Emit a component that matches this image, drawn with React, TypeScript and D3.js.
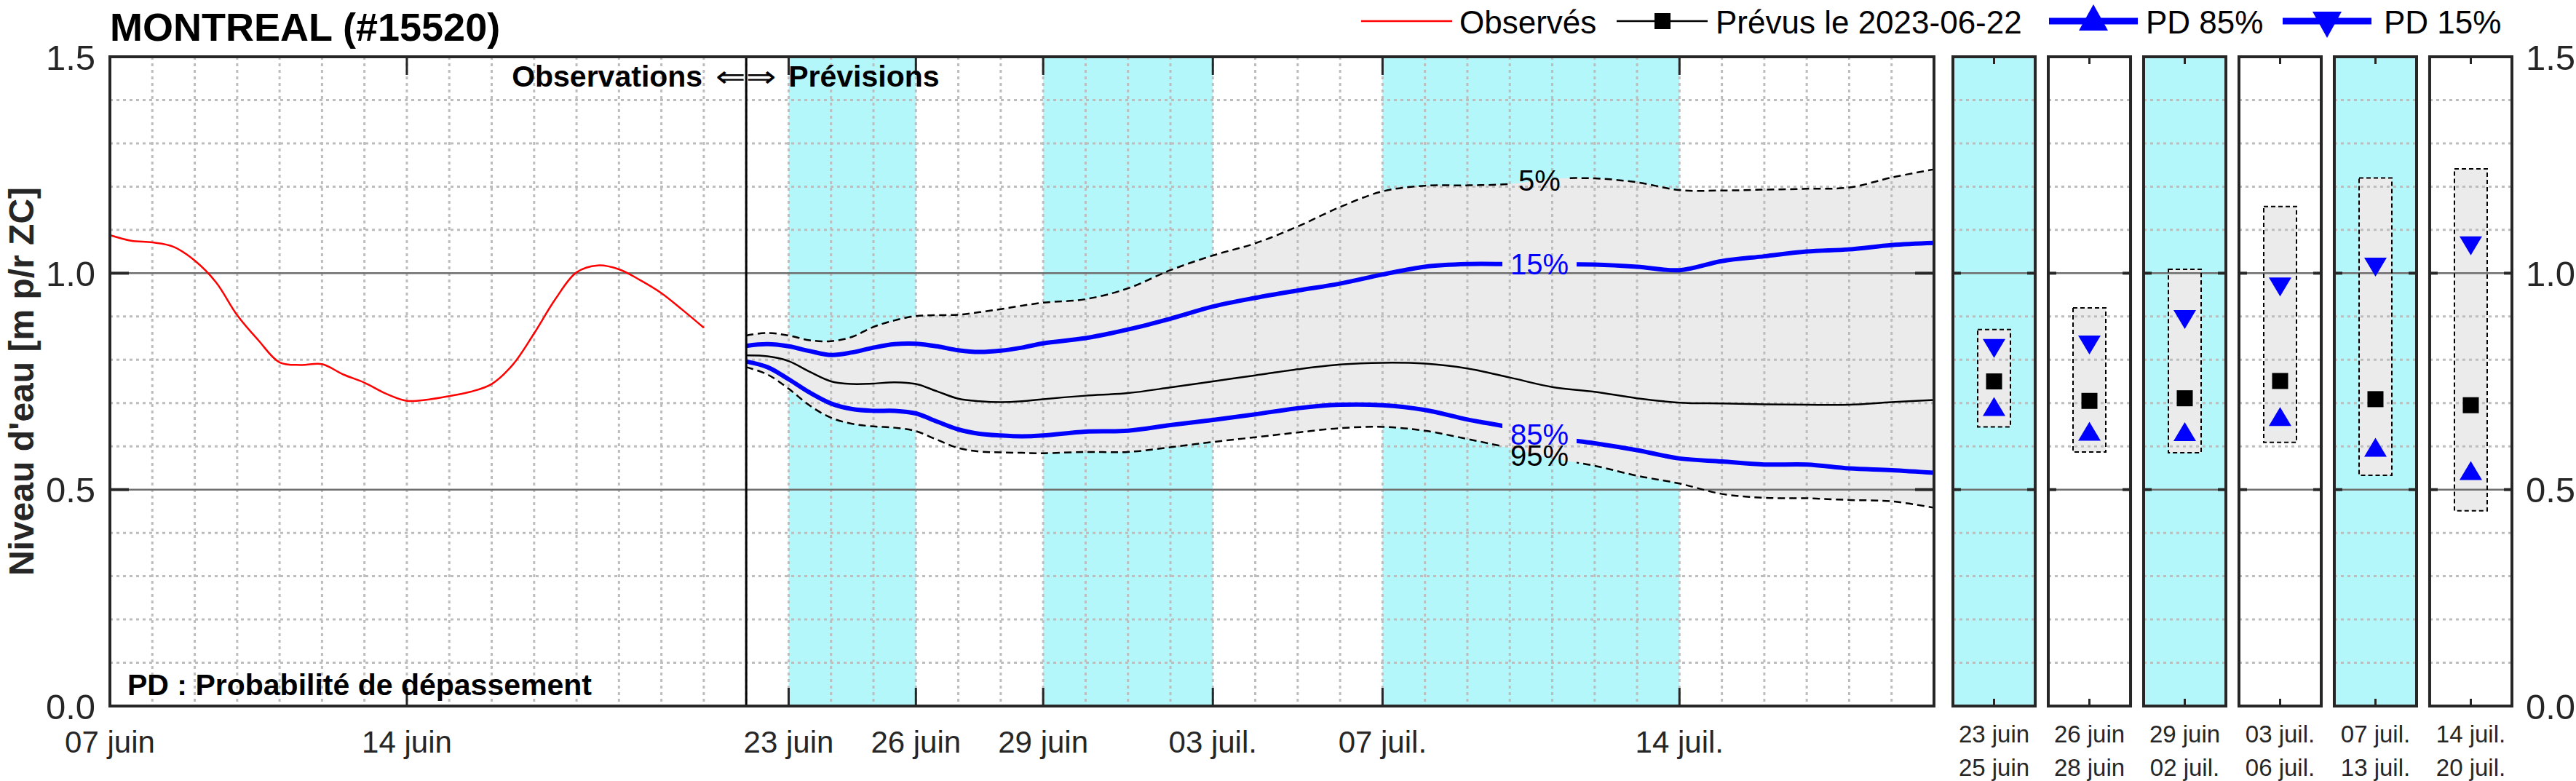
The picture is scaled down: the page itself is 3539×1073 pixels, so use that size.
import React from 'react';
import * as d3 from 'd3';

const W = 3539;
const H = 1073;
const FONT = "'Liberation Sans', Arial, Helvetica, sans-serif";

// time frame
const obsStart = new Date(Date.UTC(2023, 5, 7));
const forecastStart = new Date(Date.UTC(2023, 5, 22));
const axisEnd = new Date(Date.UTC(2023, 6, 20));

// observed levels, days after June 7
const observedDays = [0, 0.5, 1, 1.5, 2, 2.5, 3, 3.5, 4, 4.5, 5, 5.5, 6, 6.5, 7, 7.5, 8, 8.5, 9, 9.5, 10, 10.5, 11, 11.5, 12, 12.5, 13, 13.5, 14];
const observedLevel = [1.088, 1.075, 1.071, 1.061, 1.029, 0.979, 0.903, 0.845, 0.794, 0.788, 0.790, 0.766, 0.747, 0.722, 0.705, 0.708, 0.716, 0.726, 0.744, 0.789, 0.861, 0.940, 1.002, 1.018, 1.009, 0.984, 0.954, 0.915, 0.874];

// forecast, days after June 22
const forecastDays = [0, 0.5, 1, 1.5, 2, 2.5, 3, 3.5, 4, 4.5, 5, 5.5, 6, 6.5, 7, 8, 9, 10, 11, 12, 13, 14, 15, 16, 17, 18, 19, 20, 21, 22, 23, 24, 25, 26, 27, 28];
const p5 = [0.856, 0.862, 0.856, 0.845, 0.843, 0.853, 0.876, 0.891, 0.901, 0.903, 0.904, 0.910, 0.917, 0.925, 0.932, 0.940, 0.965, 1.007, 1.041, 1.069, 1.108, 1.153, 1.189, 1.202, 1.203, 1.206, 1.218, 1.219, 1.210, 1.192, 1.191, 1.193, 1.195, 1.198, 1.221, 1.240];
const p15 = [0.832, 0.836, 0.831, 0.820, 0.811, 0.817, 0.828, 0.836, 0.837, 0.831, 0.822, 0.818, 0.821, 0.828, 0.838, 0.850, 0.870, 0.895, 0.923, 0.943, 0.960, 0.976, 0.997, 1.015, 1.021, 1.021, 1.021, 1.020, 1.015, 1.007, 1.028, 1.039, 1.050, 1.055, 1.065, 1.070];
const median = [0.810, 0.808, 0.797, 0.772, 0.750, 0.744, 0.745, 0.748, 0.744, 0.727, 0.710, 0.704, 0.702, 0.704, 0.709, 0.717, 0.723, 0.736, 0.750, 0.764, 0.778, 0.789, 0.793, 0.791, 0.780, 0.759, 0.737, 0.726, 0.711, 0.701, 0.699, 0.697, 0.696, 0.696, 0.702, 0.707];
const p85 = [0.796, 0.783, 0.755, 0.724, 0.699, 0.686, 0.682, 0.682, 0.676, 0.657, 0.639, 0.629, 0.625, 0.623, 0.625, 0.634, 0.636, 0.649, 0.661, 0.674, 0.688, 0.696, 0.695, 0.684, 0.662, 0.644, 0.620, 0.607, 0.591, 0.572, 0.565, 0.558, 0.558, 0.549, 0.545, 0.539];
const p95 = [0.783, 0.766, 0.733, 0.694, 0.666, 0.652, 0.646, 0.643, 0.635, 0.615, 0.596, 0.588, 0.586, 0.585, 0.584, 0.587, 0.587, 0.598, 0.610, 0.621, 0.632, 0.642, 0.645, 0.636, 0.617, 0.596, 0.572, 0.555, 0.532, 0.514, 0.490, 0.481, 0.480, 0.476, 0.473, 0.458];

// x axis ticks
const tickDates = ['2023-06-07', '2023-06-14', '2023-06-23', '2023-06-26', '2023-06-29', '2023-07-03', '2023-07-07', '2023-07-14'];
const tickLabels = ['07 juin', '14 juin', '23 juin', '26 juin', '29 juin', '03 juil.', '07 juil.', '14 juil.'];
const yTicks = [0, 0.5, 1.0, 1.5];

// summary periods (small panels)
const periodStart = ['2023-06-23', '2023-06-26', '2023-06-29', '2023-07-03', '2023-07-07', '2023-07-14'];
const periodEnd = ['2023-06-25', '2023-06-28', '2023-07-02', '2023-07-06', '2023-07-13', '2023-07-20'];
const periodStartLabels = ['23 juin', '26 juin', '29 juin', '03 juil.', '07 juil.', '14 juil.'];
const periodEndLabels = ['25 juin', '28 juin', '02 juil.', '06 juil.', '13 juil.', '20 juil.'];
const periodMax = [0.870, 0.920, 1.009, 1.154, 1.220, 1.241];
const periodPD15 = [0.826, 0.834, 0.893, 0.968, 1.014, 1.063];
const periodMedian = [0.750, 0.705, 0.711, 0.751, 0.709, 0.695];
const periodPD85 = [0.692, 0.635, 0.634, 0.669, 0.598, 0.544];
const periodMin = [0.645, 0.587, 0.585, 0.609, 0.533, 0.451];

const CYAN = '#b3f7fa';
const BAND = '#ebebeb';
const BLUE = '#0000ff';
const AXIS = '#262626';
const GRID = '#bdbdbd';

const parse = (s: string) => new Date(s + 'T00:00:00Z');
const addDays = (base: Date, d: number) => new Date(base.getTime() + d * 86400000);

function tri(cx: number, cy: number, w: number, h: number, up: boolean) {
  const t = up ? cy - h / 2 : cy + h / 2;
  const b = up ? cy + h / 2 : cy - h / 2;
  return `M${cx},${t}L${cx - w / 2},${b}L${cx + w / 2},${b}Z`;
}

export default function App() {
  const left = 151, right = 2657, top = 78, bottom = 970;
  const x = d3.scaleUtc().domain([obsStart, axisEnd]).range([left, right]);
  const y = d3.scaleLinear().domain([0, 1.5]).range([bottom, top]);
  const fx = (d: number) => x(addDays(forecastStart, d));
  const ox = (d: number) => x(addDays(obsStart, d));
  const curve = d3.curveCatmullRom.alpha(0.5);

  const fLine = (vals: number[]) =>
    d3.line<number>().x((_, i) => fx(forecastDays[i])).y((v) => y(v)).curve(curve)(vals) || '';
  const obsPath = d3.line<number>().x((_, i) => ox(observedDays[i])).y((v) => y(v)).curve(curve)(observedLevel) || '';
  const bandPath = d3.area<number>()
    .x((_, i) => fx(forecastDays[i]))
    .y0((_, i) => y(p95[i]))
    .y1((v) => y(v))
    .curve(curve)(p5) || '';

  const xd = x(forecastStart);
  const dayLines = d3.utcDay.range(addDays(obsStart, 1), axisEnd);
  const minorY = d3.range(1, 15).map((k) => k / 10).filter((v) => Math.abs(v - 0.5) > 1e-6 && Math.abs(v - 1) > 1e-6);

  const labelAt = 18.7;
  const pctLabels = [
    { text: '5%', vals: p5, color: '#000' },
    { text: '15%', vals: p15, color: BLUE },
    { text: '85%', vals: p85, color: BLUE },
    { text: '95%', vals: p95, color: '#000' },
  ].map((l) => {
    const v = d3.scaleLinear().domain(forecastDays).range(l.vals)(labelAt);
    const tw = (l.text.length - 1) * 22.2 + 35.6;
    return { ...l, cx: fx(labelAt), cy: y(v), w: tw + 22 };
  });

  // panels
  const px = d3.scaleBand<number>().domain(d3.range(6)).range([2683, 3451]).paddingInner(0.137);
  const bw = px.bandwidth();

  const dotted = { stroke: GRID, strokeWidth: 3, strokeDasharray: '4 5' };

  return (
    <div style={{ position: 'absolute', left: 0, top: 0 }}>
      <svg width={W} height={H} style={{ display: 'block', background: '#fff', fontFamily: FONT }}>
        <defs>
          <mask id="gap" maskUnits="userSpaceOnUse" x={0} y={0} width={W} height={H}>
            <rect x={0} y={0} width={W} height={H} fill="#fff" />
            {pctLabels.map((l) => (
              <rect key={l.text} x={l.cx - l.w / 2} y={l.cy - 17} width={l.w} height={34} fill="#000" />
            ))}
          </mask>
        </defs>

        {/* main axes background */}
        <rect x={left} y={top} width={right - left} height={bottom - top} fill="#fff" />
        {periodStart.map((s, i) =>
          i % 2 === 0 ? (
            <rect key={s} x={x(parse(s))} y={top} width={x(addDays(parse(periodEnd[i]), 1)) - x(parse(s))}
              height={bottom - top} fill={CYAN} />
          ) : null
        )}
        <path d={bandPath} fill={BAND} />

        {/* grid */}
        {dayLines.map((d) => (
          <line key={+d} x1={x(d)} x2={x(d)} y1={top} y2={bottom} {...dotted} />
        ))}
        {minorY.map((v) => (
          <line key={v} x1={left} x2={right} y1={y(v)} y2={y(v)} {...dotted} />
        ))}
        {[0.5, 1.0].map((v) => (
          <line key={v} x1={left} x2={right} y1={y(v)} y2={y(v)} stroke="#6e6e6e" strokeWidth={2.5} />
        ))}

        {/* series */}
        <path d={obsPath} fill="none" stroke="#ff0000" strokeWidth={2.5} />
        <g mask="url(#gap)">
          <path d={fLine(p5)} fill="none" stroke="#000" strokeWidth={2.5} strokeDasharray="10 6" />
          <path d={fLine(p95)} fill="none" stroke="#000" strokeWidth={2.5} strokeDasharray="10 6" />
          <path d={fLine(p15)} fill="none" stroke={BLUE} strokeWidth={6} />
          <path d={fLine(p85)} fill="none" stroke={BLUE} strokeWidth={6} />
        </g>
        <path d={fLine(median)} fill="none" stroke="#000" strokeWidth={2.5} />
        {pctLabels.map((l) => (
          <text key={l.text} x={l.cx} y={l.cy} dy="0.36em" textAnchor="middle" fontSize={40} fill={l.color}>
            {l.text}
          </text>
        ))}

        {/* divider */}
        <line x1={xd} x2={xd} y1={top} y2={bottom} stroke="#000" strokeWidth={3} />

        {/* ticks and frame */}
        {tickDates.map((s) => (
          <g key={s}>
            <line x1={x(parse(s))} x2={x(parse(s))} y1={top} y2={top + 25} stroke={AXIS} strokeWidth={3} />
            <line x1={x(parse(s))} x2={x(parse(s))} y1={bottom} y2={bottom - 25} stroke={AXIS} strokeWidth={3} />
          </g>
        ))}
        {yTicks.map((v) => (
          <g key={v}>
            <line x1={left} x2={left + 26} y1={y(v)} y2={y(v)} stroke={AXIS} strokeWidth={4} />
            <line x1={right} x2={right - 26} y1={y(v)} y2={y(v)} stroke={AXIS} strokeWidth={4} />
          </g>
        ))}
        <rect x={left} y={top} width={right - left} height={bottom - top} fill="none" stroke={AXIS} strokeWidth={4} />

        {/* axis labels */}
        {yTicks.map((v) => (
          <text key={v} x={131} y={y(v)} dy="0.36em" textAnchor="end" fontSize={49} fill="#262626">
            {v.toFixed(1)}
          </text>
        ))}
        {tickDates.map((s, i) => (
          <text key={s} x={x(parse(s))} y={1034} textAnchor="middle" fontSize={42} fill="#262626">
            {tickLabels[i]}
          </text>
        ))}
        <text transform="translate(46,524) rotate(-90)" textAnchor="middle" fontSize={48} fontWeight="bold" fill="#262626">
          Niveau d'eau [m p/r ZC]
        </text>

        {/* annotations */}
        <text x={151} y={56} fontSize={54} fontWeight="bold" fill="#000">MONTREAL (#15520)</text>
        <text x={xd - 60} y={119} textAnchor="end" fontSize={41} fontWeight="bold">Observations</text>
        <text x={xd - 42} y={119} fontSize={40} textLength={84} lengthAdjust="spacingAndGlyphs">⇐⇒</text>
        <text x={xd + 58} y={119} fontSize={41} fontWeight="bold">Prévisions</text>
        <text x={175} y={955} fontSize={41} fontWeight="bold">PD : Probabilité de dépassement</text>

        {/* summary panels */}
        {periodStart.map((s, i) => {
          const x0 = px(i) as number;
          const cx = x0 + bw / 2;
          return (
            <g key={s}>
              <rect x={x0} y={top} width={bw} height={bottom - top} fill={i % 2 === 0 ? CYAN : '#fff'} />
              <rect x={cx - 22.5} y={y(periodMax[i])} width={45} height={y(periodMin[i]) - y(periodMax[i])}
                fill={BAND} />
              {minorY.map((v) => (
                <line key={v} x1={x0} x2={x0 + bw} y1={y(v)} y2={y(v)} {...dotted} />
              ))}
              {[0.5, 1.0].map((v) => (
                <g key={v}>
                  <line x1={x0} x2={x0 + bw} y1={y(v)} y2={y(v)} stroke="#6e6e6e" strokeWidth={2.5} />
                  <line x1={x0} x2={x0 + 11} y1={y(v)} y2={y(v)} stroke={AXIS} strokeWidth={4} />
                  <line x1={x0 + bw} x2={x0 + bw - 11} y1={y(v)} y2={y(v)} stroke={AXIS} strokeWidth={4} />
                </g>
              ))}
              <rect x={cx - 22.5} y={y(periodMax[i])} width={45} height={y(periodMin[i]) - y(periodMax[i])}
                fill="none" stroke="#000" strokeWidth={2} strokeDasharray="6 4" />
              <path d={tri(cx, y(periodPD15[i]), 31, 26, false)} fill={BLUE} />
              <path d={tri(cx, y(periodPD85[i]), 31, 26, true)} fill={BLUE} />
              <rect x={cx - 11} y={y(periodMedian[i]) - 11} width={22} height={22} fill="#000" />
              <line x1={cx} x2={cx} y1={top} y2={top + 10} stroke={AXIS} strokeWidth={3} />
              <line x1={cx} x2={cx} y1={bottom} y2={bottom - 10} stroke={AXIS} strokeWidth={3} />
              <rect x={x0} y={top} width={bw} height={bottom - top} fill="none" stroke={AXIS} strokeWidth={4} />
              <text x={cx} y={1020} textAnchor="middle" fontSize={33} fill="#262626">{periodStartLabels[i]}</text>
              <text x={cx} y={1066} textAnchor="middle" fontSize={33} fill="#262626">{periodEndLabels[i]}</text>
            </g>
          );
        })}
        {yTicks.map((v) => (
          <text key={v} x={3470} y={y(v)} dy="0.36em" fontSize={49} fill="#262626">
            {v.toFixed(1)}
          </text>
        ))}

        {/* legend */}
        <g fontSize={44} fill="#000">
          <line x1={1870} x2={1995} y1={29} y2={29} stroke="#ff0000" strokeWidth={2.5} />
          <text x={2005} y={46}>Observés</text>
          <line x1={2221} x2={2346} y1={29} y2={29} stroke="#000" strokeWidth={2.5} />
          <rect x={2273} y={18} width={22} height={22} fill="#000" />
          <text x={2357} y={46}>Prévus le 2023-06-22</text>
          <line x1={2815} x2={2937} y1={29} y2={29} stroke={BLUE} strokeWidth={9} />
          <path d={tri(2876, 24, 40, 36, true)} fill={BLUE} />
          <text x={2948} y={46}>PD 85%</text>
          <line x1={3136} x2={3258} y1={29} y2={29} stroke={BLUE} strokeWidth={9} />
          <path d={tri(3197, 34, 40, 36, false)} fill={BLUE} />
          <text x={3275} y={46}>PD 15%</text>
        </g>
      </svg>
    </div>
  );
}
